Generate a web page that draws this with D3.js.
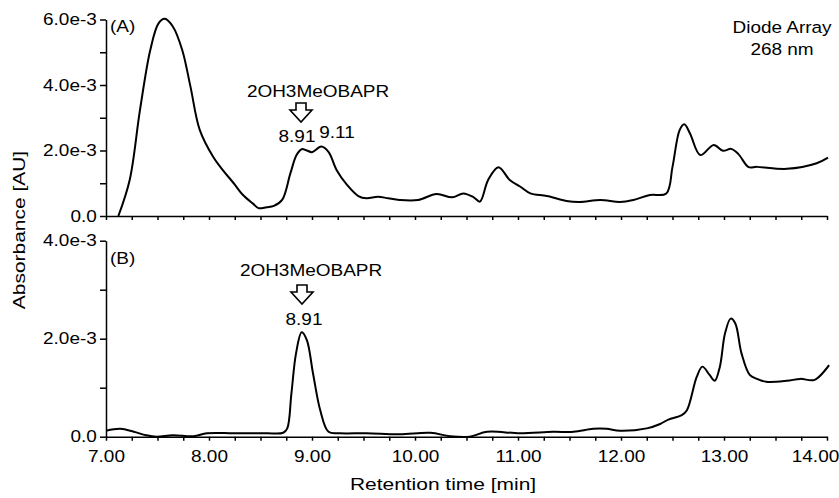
<!DOCTYPE html>
<html>
<head>
<meta charset="utf-8">
<script src="https://cdn.jsdelivr.net/npm/d3@7"></script>
<style>
  body { margin: 0; background: #fff; }
  text { font-family: "Liberation Sans", Arial, Helvetica, sans-serif; font-size: 16.5px; fill: #000; }
  .axis path, .axis line { stroke: #000; stroke-width: 1.5; }
  .trace { fill: none; stroke: #000; stroke-width: 2; stroke-linejoin: round; }
</style>
</head>
<body>
<svg id="chart" width="839" height="498"></svg>
<script>
// panel (A): diode array 268 nm, values in 1e-3 AU
var timeA = [7.12, 7.23, 7.33, 7.43, 7.51, 7.57, 7.65, 7.74, 7.82, 7.91, 8.04, 8.14, 8.24, 8.33, 8.43, 8.48, 8.56, 8.63,
  8.71, 8.79, 8.85, 8.90, 8.95, 9.00, 9.09, 9.16, 9.24, 9.34, 9.45, 9.53, 9.64, 9.74, 9.85, 10.03, 10.21, 10.36,
  10.47, 10.57, 10.63, 10.71, 10.81, 10.92, 11.02, 11.12, 11.28, 11.47, 11.60, 11.80, 11.99, 12.12, 12.28, 12.44,
  12.50, 12.57, 12.615, 12.67, 12.77, 12.90, 12.99, 13.07, 13.14, 13.24, 13.32, 13.61, 13.90, 14.01];
var absA = [0, 1.1, 3.24, 5.07, 5.88, 6.02, 5.78, 5.07, 3.95, 2.63, 1.81, 1.38, 1.0, 0.64, 0.37, 0.24, 0.27, 0.31,
  0.49, 1.3, 1.86, 2.04, 2.0, 1.95, 2.12, 1.96, 1.4, 0.95, 0.61, 0.54, 0.59, 0.54, 0.49, 0.49, 0.67, 0.57,
  0.69, 0.57, 0.44, 1.1, 1.49, 1.1, 0.9, 0.69, 0.61, 0.46, 0.43, 0.49, 0.43, 0.49, 0.64, 0.69,
  1.5, 2.63, 2.8, 2.52, 1.86, 2.17, 1.99, 2.05, 1.89, 1.49, 1.5, 1.44, 1.61, 1.78];

// panel (B)
var timeB = [7.00, 7.14, 7.27, 7.39, 7.49, 7.65, 7.85, 7.98, 8.24, 8.56, 8.72, 8.76, 8.80, 8.845, 8.90, 8.95, 9.01,
  9.08, 9.16, 9.27, 9.53, 9.85, 10.15, 10.34, 10.53, 10.70, 11.02, 11.34, 11.54, 11.73, 11.86, 11.99, 12.25, 12.38,
  12.46, 12.59, 12.64, 12.735, 12.79, 12.86, 12.91, 12.96, 13.01, 13.065, 13.11, 13.17, 13.25, 13.32, 13.41, 13.61,
  13.74, 13.88, 14.02];
var absB = [0.12, 0.16, 0.10, 0.03, 0.0, 0.03, 0.01, 0.07, 0.07, 0.07, 0.08, 0.17, 0.88, 1.7, 2.13, 1.97, 1.29,
  0.54, 0.10, 0.07, 0.07, 0.05, 0.08, 0.01, 0.0, 0.10, 0.07, 0.10, 0.10, 0.16, 0.16, 0.12, 0.17, 0.26,
  0.35, 0.44, 0.54, 1.22, 1.43, 1.26, 1.14, 1.43, 2.11, 2.41, 2.31, 1.7, 1.26, 1.18, 1.12, 1.14,
  1.18, 1.16, 1.46];

var xTicks = d3.range(7, 14.001, 0.25);
var xLabels = [7, 8, 9, 10, 11, 12, 13, 14];
var yTicksA = [0, 1, 2, 3, 4, 5, 6];
var yLabelsA = {0: "0.0", 2: "2.0e-3", 4: "4.0e-3", 6: "6.0e-3"};
var yTicksB = [0, 1, 2, 3, 4];
var yLabelsB = {0: "0.0", 2: "2.0e-3", 4: "4.0e-3"};

var svg = d3.select("#chart");
var x = d3.scaleLinear().domain([7, 14]).range([106, 827]);
var yA = d3.scaleLinear().domain([0, 6]).range([216, 19.5]);
var yB = d3.scaleLinear().domain([0, 4]).range([436.7, 240.7]);
var sx = 1.15; // reference glyphs are a bit wider than Liberation Sans

function drawPanel(y, ticks, labels, showX) {
  var gy = svg.append("g").attr("class", "axis")
      .attr("transform", "translate(106,0)")
      .call(d3.axisLeft(y).tickValues(ticks).tickSize(6).tickPadding(2).tickSizeOuter(0)
        .tickFormat(function(d) { return labels[d] || ""; }));
  gy.selectAll("text").attr("font-size", null).attr("font-family", null)
      .attr("transform", "scale(" + sx + ",1)");

  var gx = svg.append("g").attr("class", "axis")
      .attr("transform", "translate(0," + y(0) + ")")
      .call(d3.axisBottom(x).tickValues(xTicks).tickSize(4).tickPadding(10).tickSizeOuter(0)
        .tickFormat(function(d) { return showX && xLabels.indexOf(d) >= 0 ? d.toFixed(2) : ""; }));
  gx.selectAll("text").attr("font-size", null).attr("font-family", null)
      .attr("transform", function(d) {
        // last label sits against the right edge
        return (d === 14 ? "translate(-12,0) " : "") + "scale(" + sx + ",1)";
      });
}

function drawTrace(t, v, y) {
  var pts = t.map(function(d, i) { return [d, v[i]]; });
  svg.append("path").attr("class", "trace")
      .attr("d", d3.line().x(function(d) { return x(d[0]); }).y(function(d) { return y(d[1]); })
        .curve(d3.curveCatmullRom.alpha(0.5))(pts));
}

function label(txt, px, py, anchor, s) {
  svg.append("text").attr("text-anchor", anchor || "start")
      .attr("transform", "translate(" + px + "," + py + ") scale(" + (s || sx) + ",1)")
      .text(txt);
}

// hollow down arrow pointing at the peak
function arrow(cx, top) {
  var p = [[-5, 0], [5, 0], [5, 7], [11, 7], [0, 19], [-11, 7], [-5, 7]];
  svg.append("path")
      .attr("d", "M" + p.map(function(d) { return (cx + d[0]) + "," + (top + d[1]); }).join("L") + "Z")
      .attr("fill", "#fff").attr("stroke", "#000").attr("stroke-width", 1.6).attr("stroke-linejoin", "miter");
}

drawPanel(yA, yTicksA, yLabelsA, false);
drawPanel(yB, yTicksB, yLabelsB, true);
drawTrace(timeA, absA, yA);
drawTrace(timeB, absB, yB);

label("(A)", 110, 32);
label("(B)", 110, 264);
label("Diode Array", 782, 33, "middle");
label("268 nm", 782, 55, "middle");

label("2OH3MeOBAPR", 318, 97, "middle");
arrow(301, 103);
label("8.91", 297, 142, "middle");
label("9.11", 337, 138, "middle");

label("2OH3MeOBAPR", 311, 276, "middle");
arrow(302, 285);
label("8.91", 304, 325, "middle");

// axis titles
label("Retention time [min]", 443, 490, "middle", 1.27);
svg.append("text").attr("text-anchor", "middle")
    .attr("transform", "translate(25,230) rotate(-90) scale(1.27,1)")
    .text("Absorbance [AU]");
</script>
</body>
</html>
